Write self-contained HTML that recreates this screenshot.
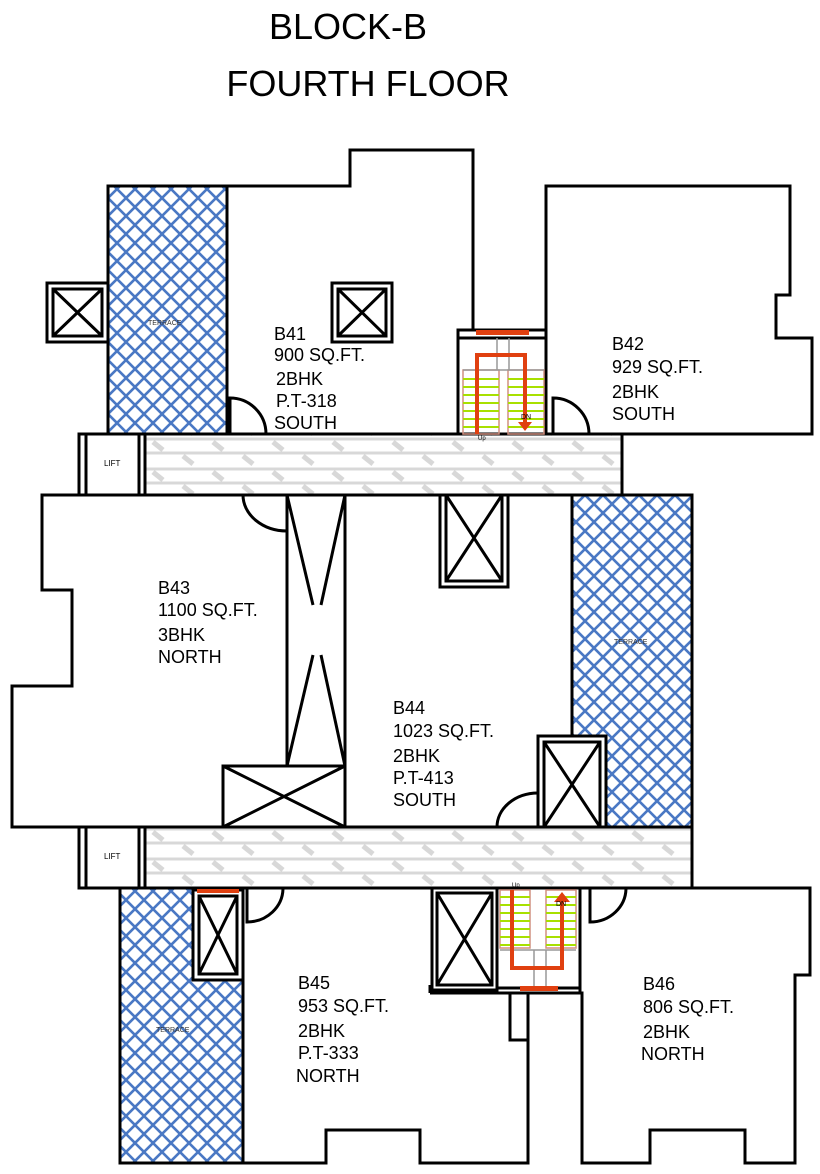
<!DOCTYPE html>
<html><head><style>body{margin:0;background:#fff}svg{display:block}</style></head><body>
<svg width="820" height="1174" viewBox="0 0 820 1174" xmlns="http://www.w3.org/2000/svg" font-family="Liberation Sans, sans-serif">
<defs>
<pattern id="hatch" width="18" height="18" patternUnits="userSpaceOnUse">
<rect width="18" height="18" fill="#fff"/>
<path d="M-2,2 L2,-2 M0,18 L18,0 M16,20 L20,16 M-2,16 L2,20 M0,0 L18,18 M16,-2 L20,2" stroke="#4a78c4" stroke-width="2.6"/>
</pattern>
<pattern id="corr" width="60" height="30" patternUnits="userSpaceOnUse" x="145" y="434">
<rect width="60" height="30" fill="#fff"/>
<path d="M0,5 H60 M0,19 H60" stroke="#d8d8d8" stroke-width="3"/>
<path d="M8,8 L18,16 M38,22 L48,30 M38,-8 L48,0" stroke="#d8d8d8" stroke-width="5"/>
</pattern>
</defs>
<text x="348" y="39" font-size="36" text-anchor="middle">BLOCK-B</text>
<text x="368" y="96" font-size="36" text-anchor="middle">FOURTH FLOOR</text>

<g stroke="#000" stroke-width="3" fill="none">
<rect x="108" y="186" width="119" height="248" fill="url(#hatch)"/>
<rect x="572" y="495" width="120" height="332" fill="url(#hatch)"/>
<rect x="120" y="888" width="123" height="275" fill="url(#hatch)"/>
<rect x="145" y="434" width="477" height="61" fill="url(#corr)"/>
<rect x="145" y="827" width="547" height="61" fill="url(#corr)"/>
<rect x="79" y="434" width="66" height="61" fill="#fff"/>
<path d="M86,434 V495 M139,434 V495"/>
<rect x="79" y="827" width="66" height="61" fill="#fff"/>
<path d="M86,827 V888 M139,827 V888"/>
<path d="M108,186 H350 V150 H473 V330"/>
<path d="M546,330 V186 H790 V295 H776 V338 H812 V434 H622"/>
<path d="M227,186 V434"/>
<rect x="458" y="330" width="88" height="104" fill="#fff"/>
<path d="M458,338 H546"/>
<rect x="47" y="283" width="61" height="59"/><rect x="53" y="289" width="49" height="47"/><path d="M53,289 L102,336 M102,289 L53,336"/>
<rect x="332" y="283" width="60" height="59"/><rect x="338" y="289" width="48" height="47"/><path d="M338,289 L386,336 M386,289 L338,336"/>
<path d="M230,434 V398 A36,36 0 0 1 266,434"/>
<path d="M553,434 V398 A36,36 0 0 1 589,434"/>
<path d="M145,495 H42 V590 H72 V686 H12 V827 H145 M692,495 V827 M622,495 H692"/>
<path d="M287,495 V827 M345,495 V827"/>
<path d="M287,495 L313,605 M345,495 L321,605 M287,766 L313,655 M345,766 L321,655"/>
<rect x="223" y="766" width="122" height="61" fill="#fff"/><path d="M223,766 L345,827 M345,766 L223,827"/>
<rect x="440" y="495" width="68" height="92"/><rect x="446" y="495" width="56" height="86"/><path d="M446,495 L502,581 M502,495 L446,581"/>
<rect x="538" y="736" width="68" height="91" fill="#fff"/><rect x="544" y="742" width="56" height="85"/><path d="M544,742 L600,827 M600,742 L544,827"/>
<path d="M287,531 A44,36 0 0 1 243,495"/>
<path d="M538,793 A41,34 0 0 0 497,827"/>
<path d="M120,888 V1163 H326 V1130 H420 V1163 H528 V993 H582 V1163 H650 V1130 H745 V1163 H795 V975 H810 V888 H692"/>
<path d="M510,993 V1040 H528"/>
<path d="M243,888 V1163"/>
<rect x="193" y="890" width="50" height="90" fill="#fff"/><rect x="199" y="896" width="38" height="78"/><path d="M199,896 L237,974 M237,896 L199,974"/>
<rect x="432" y="888" width="65" height="102"/><rect x="437" y="893" width="55" height="92"/><path d="M437,893 L492,985 M492,893 L437,985"/>
<path d="M430,993 H580 M497,888 V988 H580 M580,888 V993 M430,985 V993"/>
<path d="M247,888 V922 A36,34 0 0 0 283,888"/>
<path d="M590,888 V922 A36,34 0 0 0 626,888"/>
</g>
<g>
<rect x="463" y="370" width="36" height="64" fill="none" stroke="#d09080" stroke-width="1.5"/>
<rect x="508" y="370" width="36" height="64" fill="none" stroke="#d09080" stroke-width="1.5"/>
<g stroke="#a8e000" stroke-width="2">
<path d="M463,379 H499 M463,387 H499 M463,395 H499 M463,403 H499 M463,411 H499 M463,419 H499 M463,427 H499"/>
<path d="M508,379 H544 M508,387 H544 M508,395 H544 M508,403 H544 M508,411 H544 M508,419 H544 M508,427 H544"/>
</g>
<path d="M497,338 V370 M509,338 V370 M463,370 H544" stroke="#999" stroke-width="1.5"/>
<path d="M477,434 V355 H525 V425" stroke="#e04010" stroke-width="4" fill="none"/>
<path d="M518,422 L532,422 L525,431Z" fill="#e04010"/>
<rect x="476" y="330" width="53" height="5" fill="#e04010"/>
<text x="521" y="419" font-size="7">DN</text><text x="478" y="440" font-size="6">Up</text>
</g>
<g>
<rect x="500" y="890" width="30" height="58" fill="none" stroke="#d09080" stroke-width="1.5"/>
<rect x="546" y="890" width="30" height="58" fill="none" stroke="#d09080" stroke-width="1.5"/>
<g stroke="#a8e000" stroke-width="2">
<path d="M500,897 H530 M500,905 H530 M500,913 H530 M500,921 H530 M500,929 H530 M500,937 H530 M500,945 H530"/>
<path d="M546,897 H576 M546,905 H576 M546,913 H576 M546,921 H576 M546,929 H576 M546,937 H576 M546,945 H576"/>
</g>
<path d="M500,950 H576 M534,950 V988 M546,950 V988" stroke="#999" stroke-width="1.5"/>
<path d="M512,890 V968 H562 V900" stroke="#e04010" stroke-width="4" fill="none"/>
<path d="M554,902 L570,902 L562,892Z" fill="#e04010"/>
<rect x="520" y="986" width="38" height="5" fill="#e04010"/>
<rect x="197" y="889" width="42" height="4" fill="#e04010"/>
<text x="556" y="906" font-size="7">DN</text><text x="512" y="887" font-size="6">Up</text>
</g>
<g font-size="8"><text x="104" y="466">LIFT</text><text x="104" y="859">LIFT</text></g>
<g font-size="7" fill="#333"><text x="148" y="325">TERRACE</text><text x="614" y="644">TERRACE</text><text x="156" y="1032">TERRACE</text></g>
<g font-size="18">
<text x="274" y="340">B41</text><text x="274" y="361">900 SQ.FT.</text><text x="276" y="385">2BHK</text><text x="276" y="407">P.T-318</text><text x="274" y="429">SOUTH</text>
<text x="612" y="350">B42</text><text x="612" y="373">929 SQ.FT.</text><text x="612" y="398">2BHK</text><text x="612" y="420">SOUTH</text>
<text x="158" y="594">B43</text><text x="158" y="616">1100 SQ.FT.</text><text x="158" y="641">3BHK</text><text x="158" y="663">NORTH</text>
<text x="393" y="714">B44</text><text x="393" y="737">1023 SQ.FT.</text><text x="393" y="762">2BHK</text><text x="393" y="784">P.T-413</text><text x="393" y="806">SOUTH</text>
<text x="298" y="989">B45</text><text x="298" y="1012">953 SQ.FT.</text><text x="298" y="1037">2BHK</text><text x="298" y="1059">P.T-333</text><text x="296" y="1082">NORTH</text>
<text x="643" y="990">B46</text><text x="643" y="1013">806 SQ.FT.</text><text x="643" y="1038">2BHK</text><text x="641" y="1060">NORTH</text>
</g>
</svg>
</body></html>
